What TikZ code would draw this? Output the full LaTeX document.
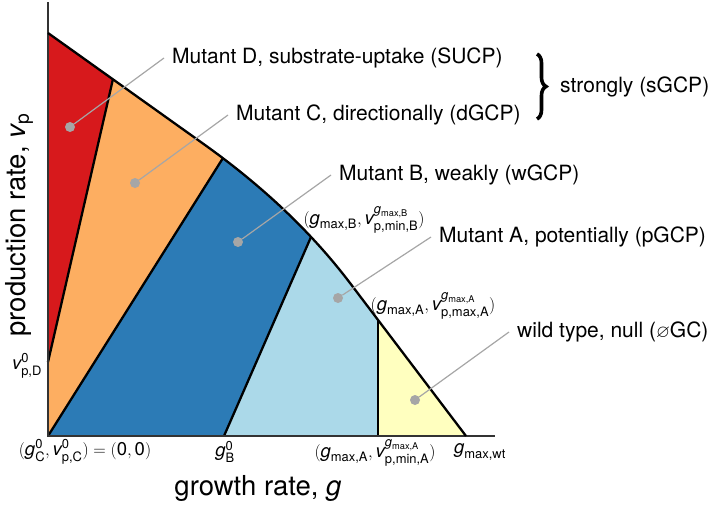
\documentclass[tikz,border=0pt]{standalone}
\usepackage{fontspec}
\setmainfont{TeX Gyre Heros}
\usepackage{amsmath}
\usepackage{amssymb}
\usepackage{xcolor}
\usetikzlibrary{decorations.pathreplacing}
\definecolor{regD}{HTML}{D7191C}
\definecolor{regC}{HTML}{FDAE61}
\definecolor{regB}{HTML}{2C7BB6}
\definecolor{regA}{HTML}{ABD9E9}
\definecolor{regwt}{HTML}{FFFFBF}
\newcommand{\gsym}{\text{\itshape g}}
\newcommand{\vsym}{\text{\itshape v}}
\newcommand{\zsym}{\text{0}}

\begin{document}
\begin{tikzpicture}[x=1pt,y=-1pt,
  mutlabel/.style={anchor=west,inner ysep=0pt,inner xsep=8pt,font=\fontsize{21}{24}\selectfont},
  ptlabel/.style={inner sep=0pt,font=\fontsize{18.5}{21}\selectfont},
  axlabel/.style={inner sep=0pt,font=\fontsize{27.5}{30}\selectfont},
  leader/.style={draw=black!35,line width=1.2pt},
  dot/.style={circle,fill=black!35,inner sep=0pt,minimum size=10pt},
  border/.style={line width=2.3pt,line join=round}]
\useasboundingbox (0,0) rectangle (709,506);
\fill[regwt] (48,436) -- (48,33) -- (205,145) .. controls (263.7,187) and (312,233) .. (350,283) -- (466,436) -- cycle;
\begin{scope}
\clip (48,436) -- (48,33) -- (205,145) .. controls (263.7,187) and (312,233) .. (350,283) -- (466,436) -- cycle;
\fill[regA] (0,0) rectangle (378,436);
\fill[regB] (224,436) -- (415,0) -- (0,0) -- (0,436) -- cycle;
\fill[regC] (48,436) -- (322,0) -- (0,0) -- (0,436) -- cycle;
\fill[regD] (48,362) -- (131,0) -- (0,0) -- (0,362) -- cycle;
\end{scope}
\draw[border] (48,362) -- (113,79);
\draw[border] (48,436) -- (223,158);
\draw[border] (224,436) -- (311,237);
\draw[border] (378,436) -- (378,320);
\draw[line width=1.6pt,black!80] (48,2) -- (48,436) -- (495,436);
\draw[border] (48,33) -- (205,145) .. controls (263.7,187) and (312,233) .. (350,283) -- (466,436);
\node[mutlabel] (txtD) at (164,58) {Mutant D, substrate-uptake (SUCP)};
\node[mutlabel] (txtC) at (228,115) {Mutant C, directionally (dGCP)};
\node[mutlabel] (txtB) at (331,175) {Mutant B, weakly (wGCP)};
\node[mutlabel] (txtA) at (431,237) {Mutant A, potentially (pGCP)};
\node[mutlabel] (txtwt) at (509,332) {wild type, null (\raisebox{0.2pt}{\scalebox{0.85}{$\varnothing$}}GC)};
\node[mutlabel] (txtstrong) at (552,87) {strongly (sGCP)};
\coordinate (braceTop) at (537,54);
\coordinate (braceBot) at (537,119);
\draw[decorate,decoration={brace,amplitude=9pt},line width=3.6pt] (braceTop) -- (braceBot);
\node[dot] (dotD) at (70,127) {};
\node[dot] (dotC) at (135,183) {};
\node[dot] (dotB) at (238,242) {};
\node[dot] (dotA) at (338,298) {};
\node[dot] (dotwt) at (415,400) {};
\draw[leader] (dotD) -- (txtD.west);
\draw[leader] (dotC) -- (txtC.west);
\draw[leader] (dotB) -- (txtB.west);
\draw[leader] (dotA) -- (txtA.west);
\draw[leader] (dotwt) -- (txtwt.west);
\node[ptlabel] (lblO) at (85,452) {$(\gsym^{\zsym}_{\text{C}}, \vsym^{\zsym}_{\text{p,C}}) = (\text{0}, \text{0})$};
\node[ptlabel] (lblgB) at (225,452) {$\gsym^{\zsym}_{\text{B}}$};
\node[ptlabel] (lblgA) at (375,453) {$(\gsym_{\text{max,A}}, \vsym^{\gsym_{\text{max,A}}}_{\text{p,min,A}})$};
\node[ptlabel] (lblwt) at (480,452) {$\gsym_{\text{max,wt}}$};
\node[ptlabel] (lblvD) at (27,366) {$\vsym^{\zsym}_{\text{p,D}}$};
\node[ptlabel] (lblB) at (364,220) {$(\gsym_{\text{max,B}}, \vsym^{\gsym_{\text{max,B}}}_{\text{p,min,B}})$};
\node[ptlabel] (lblAmax) at (433,306) {$(\gsym_{\text{max,A}}, \vsym^{\gsym_{\text{max,A}}}_{\text{p,max,A}})$};
\node[axlabel] (xlab) at (258,488) {growth rate, $\gsym$};
\node[axlabel,rotate=90] (ylab) at (19,225) {production rate, $\vsym_{\text{p}}$};
\end{tikzpicture}
\end{document}
